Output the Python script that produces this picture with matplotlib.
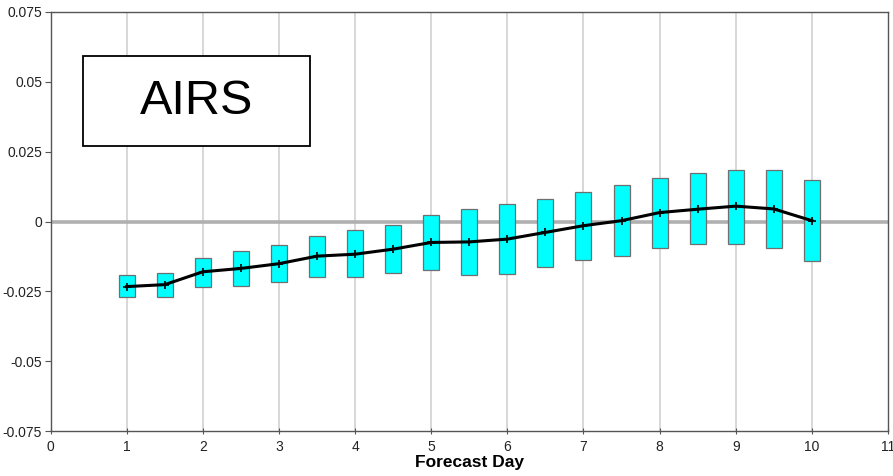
import matplotlib
matplotlib.use('Agg')
import matplotlib.pyplot as plt
from matplotlib.patches import Rectangle

# ---------- data ----------
days = [1, 1.5, 2, 2.5, 3, 3.5, 4, 4.5, 5, 5.5, 6, 6.5, 7, 7.5, 8, 8.5, 9, 9.5, 10]
box_top = [-0.0193, -0.0184, -0.0130, -0.0104, -0.0083, -0.0051, -0.0032, -0.0013,
           0.0025, 0.0043, 0.0062, 0.0081, 0.0107, 0.0129, 0.0155, 0.0172, 0.0184,
           0.0183, 0.0147]
box_bot = [-0.0272, -0.0269, -0.0234, -0.0232, -0.0216, -0.0197, -0.0198, -0.0185,
           -0.0175, -0.0193, -0.0187, -0.0164, -0.0137, -0.0123, -0.0096, -0.0081,
           -0.0080, -0.0094, -0.0140]
mean_val = [-0.0233, -0.0226, -0.0180, -0.0168, -0.0151, -0.0124, -0.0117, -0.0099,
            -0.0075, -0.0073, -0.0063, -0.0039, -0.0015, 0.0003, 0.0032, 0.0044,
            0.0055, 0.0045, 0.0003]

yticks = [-0.075, -0.05, -0.025, 0, 0.025, 0.05, 0.075]
ytick_labels = ['-0.075', '-0.05', '-0.025', '0', '0.025', '0.05', '0.075']
xticks = list(range(0, 12))

FONT = 'Liberation Sans'
CYAN = '#00FFFF'
SPINE = '#555555'

fig = plt.figure(figsize=(8.93, 4.76), dpi=100, facecolor='white')
ax = fig.add_axes([0.0566, 0.0945, 0.9378, 0.8803])

ax.set_xlim(0, 11)
ax.set_ylim(-0.075, 0.075)

# vertical grid + zero line
for xv in xticks[1:-1]:
    ax.axvline(xv, color='#d4d4d4', lw=1.3, zorder=0)
ax.axhline(0, color='#b0b0b0', lw=2.6, zorder=1)

# boxes
heights = [t - b for t, b in zip(box_top, box_bot)]
ax.bar(days, heights, bottom=box_bot, width=0.21, color=CYAN,
       edgecolor='#6f6f6f', linewidth=0.9, zorder=2)

# mean line
ax.plot(days, mean_val, color='black', lw=2.2, marker='+', markersize=6,
        markeredgewidth=1.2, zorder=3)

ax.set_xticks(xticks)
ax.set_xticklabels([str(v) for v in xticks], fontsize=10, fontfamily=FONT, color='#222222')
ax.set_yticks(yticks)
ax.set_yticklabels(ytick_labels, fontsize=10, fontfamily=FONT, color='#222222')
ax.tick_params(axis='y', direction='out', length=4, color=SPINE, pad=2)
ax.tick_params(axis='x', direction='inout', length=5, color=SPINE, pad=4)

for s in ax.spines.values():
    s.set_color(SPINE)
    s.set_linewidth(1.0)

ax.set_xlabel('Forecast Day', fontsize=12.5, fontweight='bold', fontfamily=FONT, labelpad=1)

# AIRS label box
ax.add_patch(Rectangle((0.43, 0.0269), 2.98, 0.0325, facecolor='white',
                       edgecolor='black', linewidth=1.3, zorder=5))
ax.text(1.92, 0.0428, 'AIRS', ha='center', va='center', fontsize=35,
        fontfamily=FONT, zorder=6)

fig.savefig('out.png', dpi=100, facecolor='white')
